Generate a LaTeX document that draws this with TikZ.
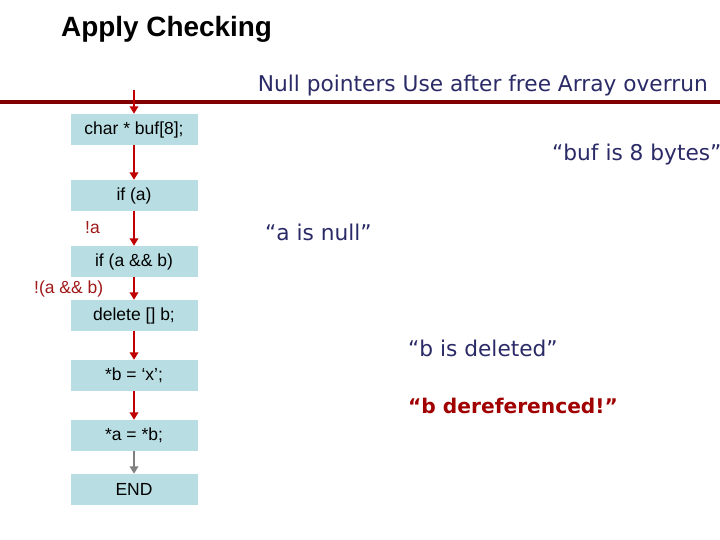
\documentclass[tikz,border=0pt]{standalone}
\usepackage{fontspec}
\setmainfont{Liberation Sans}
\newfontfamily\notefont{DejaVu Sans}
\usetikzlibrary{arrows.meta}
\definecolor{boxfill}{HTML}{B8DEE3}
\definecolor{arrowred}{HTML}{C00000}
\definecolor{barred}{HTML}{800000}
\definecolor{labred}{HTML}{A01818}
\definecolor{navy}{HTML}{2A2A66}
\definecolor{darkred}{HTML}{A00000}
\tikzset{
  stmt/.style={fill=boxfill, minimum width=127pt, minimum height=31pt, inner sep=0pt, font=\fontsize{17.5}{19}\selectfont},
  flow/.style={draw=arrowred, line width=2.4pt, -{Triangle[length=7.5pt,width=8.5pt]}},
  grayflow/.style={draw=gray, line width=2.4pt, -{Triangle[length=7.5pt,width=8.5pt]}},
  brlabel/.style={text=labred, font=\fontsize{17.5}{19}\selectfont, inner sep=0pt},
  note/.style={text=navy, font=\notefont\fontsize{21.7}{24}\selectfont, inner sep=0pt, anchor=west},
}
\begin{document}
\begin{tikzpicture}[x=1pt,y=-1pt]
\useasboundingbox (0,0) rectangle (720,540);
\node[anchor=west, inner sep=0pt, font=\bfseries\fontsize{27.9}{30}\selectfont] (title) at (61,29) {Apply Checking};
\node[note, anchor=east] (checks) at (708,86) {Null pointers Use after free Array overrun};
\draw[barred, line width=4.5pt] (0,102) coordinate (barL) -- (720,102) coordinate (barR);
\coordinate (start) at (134,90);
\node[stmt] (b1) at (134,129.5) {char * buf[8];};
\node[stmt] (b2) at (134,195.5) {if (a)};
\node[stmt] (b3) at (134,261.5) {if (a \&\& b)};
\node[stmt] (b4) at (134,315.5) {delete [] b;};
\node[stmt] (b5) at (134,375.5) {*b = ‘x’;};
\node[stmt] (b6) at (134,435.5) {*a = *b;};
\node[stmt] (b7) at (134,489.5) {END};
\draw[flow] (start) -- (b1.north);
\draw[flow] (b1) -- (b2);
\draw[flow] (b2) -- (b3);
\draw[flow] (b3) -- (b4);
\draw[flow] (b4) -- (b5);
\draw[flow] (b5) -- (b6);
\draw[grayflow] (b6) -- (b7);
\node[brlabel, anchor=west] (la) at (85,228) {!a};
\node[brlabel, anchor=west] (lab) at (34,289) {!(a \&\& b)};
\node[note] (n1) at (552,155) {“buf is 8 bytes”};
\node[note] (n2) at (265,232) {“a is null”};
\node[note] (n3) at (408,348) {“b is deleted”};
\node[note, text=darkred, font=\notefont\bfseries\fontsize{20.2}{22}\selectfont] (n4) at (408,406) {“b dereferenced!”};
\end{tikzpicture}
\end{document}
